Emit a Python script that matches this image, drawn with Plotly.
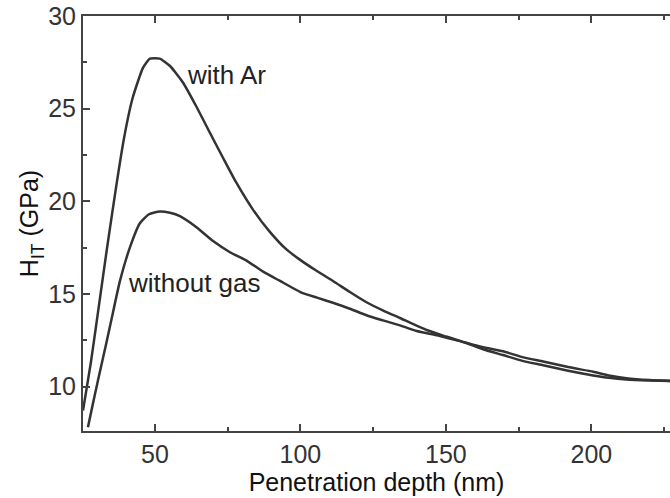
import plotly.graph_objects as go

# --- data ---
x_ar = [25.3, 28, 30, 33.4, 36.8, 39.5, 42.4, 45.9, 48.3, 51.7, 55.2, 59.7, 64.3, 68.9,
        73.4, 78, 83.7, 89.5, 95.2, 99.8, 105, 111.2, 117, 122.7, 128.5, 134.2, 143.4,
        150, 157, 163, 169.6, 176, 183.4, 192, 200.6, 206, 212, 220, 228]
y_ar = [8.7, 11.3, 13.5, 17.3, 20.9, 23.5, 25.6, 27.2, 27.7, 27.7, 27.3, 26.4, 25.1, 23.7,
        22.35, 21.0, 19.55, 18.35, 17.4, 16.85, 16.3, 15.7, 15.1, 14.55, 14.1, 13.7, 13.05,
        12.7, 12.35, 12.0, 11.7, 11.4, 11.15, 10.85, 10.6, 10.47, 10.38, 10.33, 10.3]

x_ng = [27, 28.2, 30.4, 33.4, 35.6, 38, 41.4, 44.8, 48, 51.7, 55.2, 58.6, 64.3, 70, 75.8,
        81.5, 87.2, 93, 100, 105.7, 111.2, 117, 122.7, 128.4, 134.2, 140, 147, 154.8, 162,
        169.6, 176, 183.4, 192, 200.6, 206, 212, 220, 228]
y_ng = [7.8, 8.7, 10.3, 12.4, 14.0, 15.7, 17.5, 18.8, 19.3, 19.45, 19.38, 19.2, 18.6,
        17.85, 17.25, 16.8, 16.2, 15.7, 15.1, 14.8, 14.52, 14.2, 13.85, 13.57, 13.3, 13.0,
        12.76, 12.45, 12.15, 11.9, 11.6, 11.35, 11.05, 10.8, 10.6, 10.45, 10.35, 10.3]

x_ticks = [50, 100, 150, 200]
y_ticks = [10, 15, 20, 25, 30]

FONT = "Liberation Sans, Arial, sans-serif"
LINE = "#333333"
AX = "#444444"

fig = go.Figure()
for xs, ys in ((x_ar, y_ar), (x_ng, y_ng)):
    fig.add_trace(go.Scatter(x=xs, y=ys, mode="lines",
                             line=dict(color=LINE, width=2.5, shape="spline", smoothing=0.5),
                             showlegend=False, hoverinfo="skip"))

fig.add_annotation(x=60.3, y=26.8, text="with Ar", showarrow=False, xanchor="left",
                   yanchor="middle", font=dict(family=FONT, size=26, color="#222"))
fig.add_annotation(x=40.0, y=15.6, text="without gas", showarrow=False, xanchor="left",
                   yanchor="middle", font=dict(family=FONT, size=26, color="#222"))

fig.update_layout(
    width=670, height=498,
    margin=dict(l=83, r=0, t=16, b=67, autoexpand=False),
    paper_bgcolor="white", plot_bgcolor="white",
    font=dict(family=FONT, size=25, color="#333"),
    xaxis=dict(range=[25.3, 227], tickvals=x_ticks, ticks="inside", ticklen=7, tickwidth=2,
               tickcolor=AX, showline=True, linecolor=AX, linewidth=2,
               mirror="ticks", showgrid=False, zeroline=False, automargin=False,
               minor=dict(tickvals=[75, 125, 175, 225], ticks="inside", ticklen=4,
                          tickwidth=2, tickcolor=AX),
               tickfont=dict(size=25, color="#333"),
               title=dict(text="Penetration depth (nm)", font=dict(size=25, color="#111"),
                          standoff=4)),
    yaxis=dict(range=[7.6, 30], tickvals=y_ticks, ticks="inside", ticklen=7, tickwidth=2,
               tickcolor=AX, showline=True, linecolor=AX, linewidth=2,
               showgrid=False, zeroline=False, automargin=False,
               minor=dict(tickvals=[12.5, 17.5, 22.5, 27.5], ticks="inside", ticklen=4,
                          tickwidth=2, tickcolor=AX),
               tickfont=dict(size=25, color="#333"),
               title=dict(text="H<sub>IT</sub> (GPa)", font=dict(size=25, color="#111"),
                          standoff=2)),
)

fig.write_html(
    "out.html",
    config={"displayModeBar": False},
    post_script="document.body.style.margin='0';document.body.style.overflow='hidden';",
)
